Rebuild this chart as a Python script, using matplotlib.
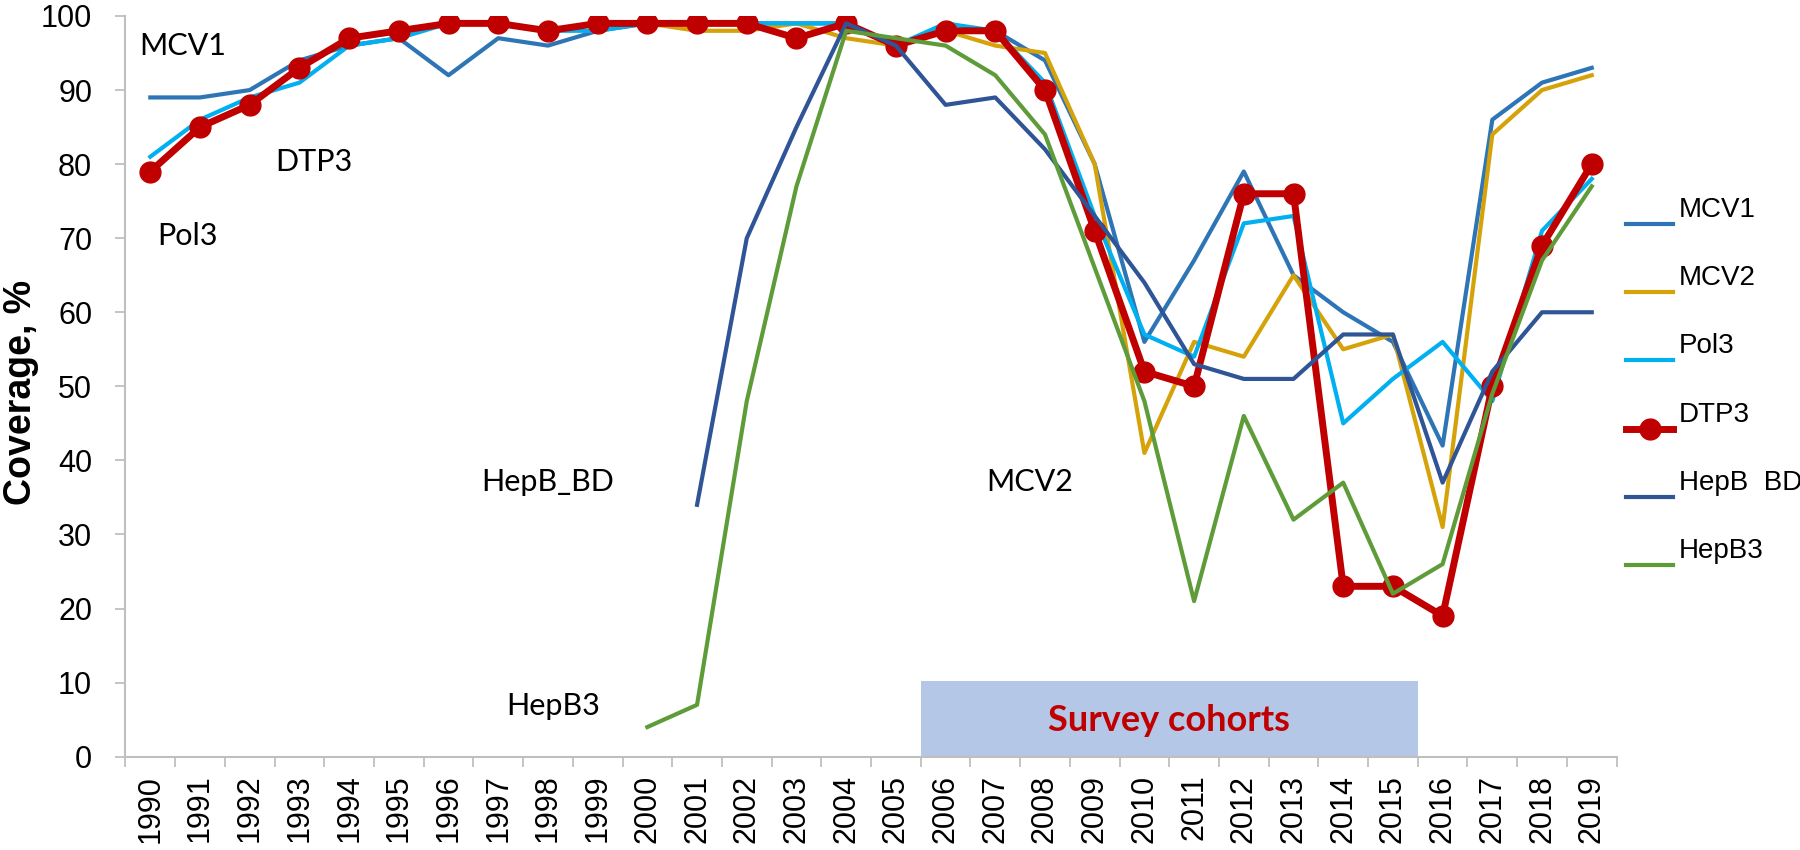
import matplotlib
matplotlib.use("Agg")
import matplotlib.pyplot as plt
from matplotlib.legend_handler import HandlerLine2D
import numpy as np

# data -----------------------------------------------------------------------
years = list(range(1990, 2020))
NA = np.nan

mcv1 = [89, 89, 90, 94, 96, 97, 92, 97, 96, 98, 99, 99, 99, 99, 99,
        96, 98, 98, 94, 80, 56, 67, 79, 65, 60, 56, 42, 86, 91, 93]
mcv2 = [NA] * 10 + [99, 98, 98, 99, 97, 96, 98, 96, 95, 80,
                    41, 56, 54, 65, 55, 57, 31, 84, 90, 92]
pol3 = [81, 86, 89, 91, 96, 97, 99, 99, 98, 98, 99, 99, 99, 99, 99,
        96, 99, 98, 91, 73, 57, 54, 72, 73, 45, 51, 56, 48, 71, 78]
dtp3 = [79, 85, 88, 93, 97, 98, 99, 99, 98, 99, 99, 99, 99, 97, 99,
        96, 98, 98, 90, 71, 52, 50, 76, 76, 23, 23, 19, 50, 69, 80]
hepb_bd = [NA] * 11 + [34, 70, 85, 99, 96, 88, 89, 82, 73,
                       64, 53, 51, 51, 57, 57, 37, 52, 60, 60]
hepb3 = [NA] * 10 + [4, 7, 48, 77, 98, 97, 96, 92, 84, 66,
                     48, 21, 46, 32, 37, 22, 26, 49, 67, 77]

series_names = ["MCV1", "MCV2", "Pol3", "DTP3", "HepB  BD", "HepB3"]
series_colors = ["#2E75B6", "#D6A20A", "#00B0F0", "#C00000", "#2F5597", "#5E9C3A"]

# survey cohort years (box under the lines)
cohort_first, cohort_last = 2006, 2015
cohort_text = "Survey cohorts"

# labels written next to the lines: (text, year, value)
line_labels = [("MCV1", 1990.65, 95.9), ("DTP3", 1993.3, 80.3), ("Pol3", 1990.75, 70.3),
               ("HepB_BD", 1998.0, 37.1), ("MCV2", 2007.7, 37.1), ("HepB3", 1998.1, 6.8)]


class LowLine(HandlerLine2D):
    # excel puts the legend key at the text baseline, not in the middle
    def create_artists(self, legend, orig_handle, xdescent, ydescent,
                       width, height, fontsize, trans):
        return super().create_artists(legend, orig_handle, xdescent, ydescent + 24,
                                      width, height, fontsize, trans)


fig = plt.figure(figsize=(18, 8.5), dpi=100)
ax = fig.add_axes([0.0697, 0.1098, 0.8284, 0.8714])

grey = "#BFBFBF"
lw = 3.0
ax.plot(years, mcv1, color=series_colors[0], lw=lw, label=series_names[0], zorder=3)
ax.plot(years, mcv2, color=series_colors[1], lw=lw, label=series_names[1], zorder=4)
ax.plot(years, pol3, color=series_colors[2], lw=lw, label=series_names[2], zorder=5)
ax.plot(years, dtp3, color=series_colors[3], lw=5.0, marker="o", markersize=15,
        label=series_names[3], zorder=6)
ax.plot(years, hepb_bd, color=series_colors[4], lw=lw, label=series_names[4], zorder=7)
ax.plot(years, hepb3, color=series_colors[5], lw=lw, label=series_names[5], zorder=8)

ax.add_patch(plt.Rectangle((cohort_first - 0.5, 0), cohort_last - cohort_first + 1, 10.2,
                           facecolor="#B4C7E7", edgecolor="none", zorder=1))
ax.text((cohort_first + cohort_last) / 2, 4.9, cohort_text, color="#C00000",
        fontsize=26, fontweight="bold", family="Lato", ha="center", va="center", zorder=9)

for txt, xx, yy in line_labels:
    ax.text(xx, yy, txt, fontsize=22, family="Lato", ha="center", va="center")

ax.set_xlim(1989.5, 2019.5)
ax.set_ylim(0, 100)
ax.set_yticks(range(0, 101, 10))
ax.set_xticks(years)
ax.set_xticklabels([str(y) for y in years], rotation=90)
ax.set_xticks(np.arange(1989.5, 2020, 1), minor=True)
ax.tick_params(axis="x", which="major", length=0, pad=13, labelsize=22)
ax.tick_params(axis="x", which="minor", length=7, width=1.3, color=grey)
ax.tick_params(axis="y", length=7, width=1.3, color=grey, labelsize=22, pad=17)
for lab in ax.get_xticklabels() + ax.get_yticklabels():
    lab.set_family("Liberation Sans")

for s in ["top", "right"]:
    ax.spines[s].set_visible(False)
for s in ["left", "bottom"]:
    ax.spines[s].set_color(grey)
    ax.spines[s].set_linewidth(1.5)

fig.text(21 / 1800, 1 - 392 / 850, "Coverage, %", rotation=90, ha="center", va="center",
         fontsize=27, fontweight="bold", family="Liberation Sans")

leg = ax.legend(loc="upper left", bbox_to_anchor=(1626 / 1800, 1 - 197 / 850),
                bbox_transform=fig.transFigure, frameon=False, borderpad=0,
                borderaxespad=0, handlelength=1.7, handletextpad=0.2,
                labelspacing=1.52, prop={"family": "Liberation Sans", "size": 20},
                handler_map={plt.Line2D: LowLine()})
for h in leg.legend_handles:
    if h.get_label() != "DTP3":
        h.set_linewidth(3.0)

fig.savefig("out.png", dpi=100)
